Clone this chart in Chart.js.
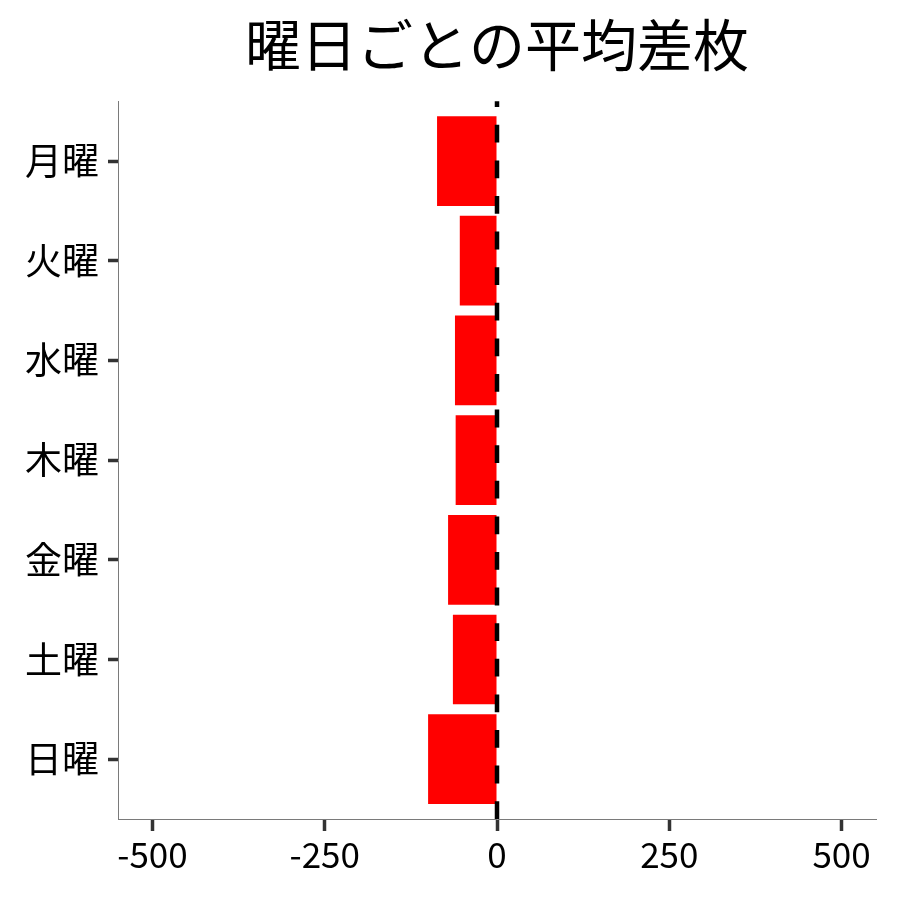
<!DOCTYPE html>
<html>
<head>
<meta charset="utf-8">
<script src="https://cdn.jsdelivr.net/npm/chart.js@4"></script>
<style>
  html, body { margin: 0; padding: 0; background: #fff; }
  #wrap { width: 900px; height: 900px; }
</style>
</head>
<body>
<div id="wrap"><canvas id="dayChart"></canvas></div>
<script>
const days = ['月曜', '火曜', '水曜', '木曜', '金曜', '土曜', '日曜'];
const avgDiff = [-87, -54, -61, -60, -71, -64, -100];
const xTicks = [-500, -250, 0, 250, 500];

const FONT = "'Noto Sans CJK JP', 'Noto Sans', sans-serif";

// dashed line at x = 0, over the bars
const zeroLine = {
  id: 'zeroLine',
  afterDatasetsDraw(chart) {
    const { ctx, chartArea, scales } = chart;
    const x = scales.x.getPixelForValue(0);
    ctx.save();
    ctx.strokeStyle = '#000';
    ctx.lineWidth = 4.5;
    ctx.setLineDash([17.8, 17.8]);
    ctx.beginPath();
    ctx.moveTo(x, chartArea.bottom);
    ctx.lineTo(x, chartArea.top);
    ctx.stroke();
    ctx.restore();
  }
};

document.addEventListener('DOMContentLoaded', () => {
  const ctx = document.getElementById('dayChart').getContext('2d');
  new Chart(ctx, {
    type: 'bar',
    data: {
      datasets: [{
        data: days.map((d, i) => ({ x: avgDiff[i], y: i })),
        backgroundColor: '#ff0000',
        borderWidth: 0,
        barPercentage: 0.9,
        categoryPercentage: 1.0
      }]
    },
    plugins: [zeroLine],
    options: {
      responsive: false,
      animation: false,
      indexAxis: 'y',
      layout: { padding: { top: 0, right: 24, bottom: 0, left: 0 } },
      plugins: {
        legend: { display: false },
        tooltip: { enabled: false },
        title: {
          display: true,
          text: '曜日ごとの平均差枚',
          color: '#000',
          fullSize: false,
          font: { family: FONT, size: 56, weight: 'normal' },
          padding: { top: 11, bottom: 23 }
        }
      },
      scales: {
        x: {
          type: 'linear',
          min: -550,
          max: 550,
          afterBuildTicks: (scale) => { scale.ticks = xTicks.map(v => ({ value: v })); },
          afterFit: (scale) => { scale.height = 81; },
          border: { display: true, color: '#7a7a7a', width: 1 },
          grid: { drawOnChartArea: false, drawTicks: true, tickLength: 12, tickWidth: 3.5, tickColor: '#333' },
          ticks: { color: '#000', padding: 3, font: { family: FONT, size: 35 } }
        },
        y: {
          type: 'linear',
          reverse: true,
          offset: false,
          min: -0.6,
          max: 6.6,
          afterBuildTicks: (scale) => { scale.ticks = days.map((d, i) => ({ value: i })); },
          afterFit: (scale) => { scale.width = 118; },
          border: { display: true, color: '#7a7a7a', width: 1 },
          grid: { offset: false, drawOnChartArea: false, drawTicks: true, tickLength: 10, tickWidth: 3.5, tickColor: '#333' },
          ticks: {
            color: '#000',
            padding: 9,
            font: { family: FONT, size: 37 },
            callback: (v) => days[v]
          }
        }
      }
    }
  });
});
</script>
<script>
  document.getElementById('dayChart').width = 900;
  document.getElementById('dayChart').height = 900;
</script>
</body>
</html>
